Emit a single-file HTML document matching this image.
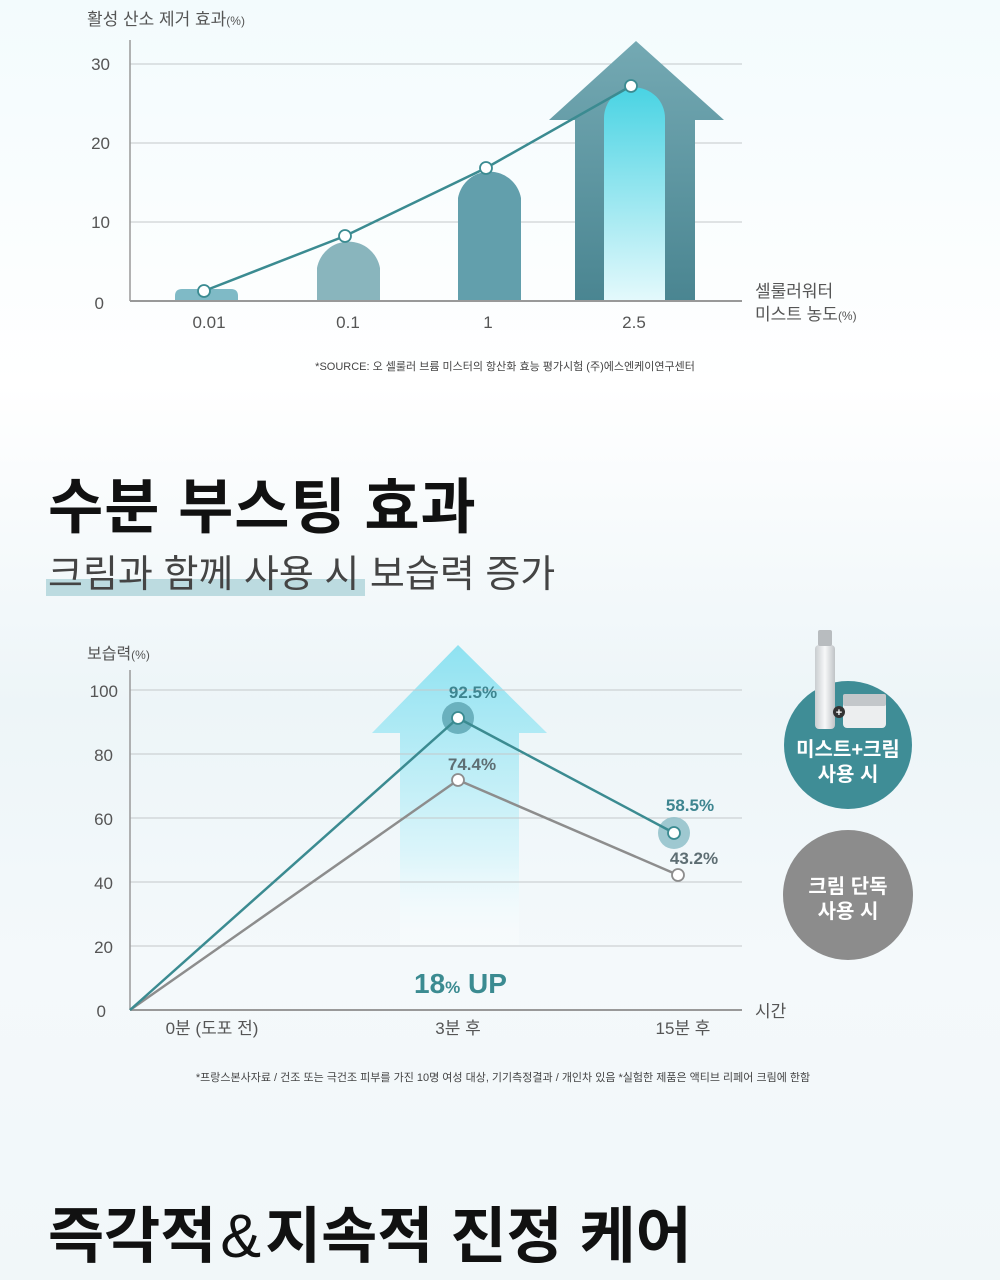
<!DOCTYPE html>
<html><head><meta charset="utf-8"><style>
body{margin:0;width:1000px;height:1280px;overflow:hidden;background:linear-gradient(180deg,#f3fbfd 0%,#ffffff 30%,#edf5f8 55%,#f4f9fb 75%,#f1f7f9 100%);font-family:"Liberation Sans","Noto Sans CJK KR",sans-serif;}
svg{position:absolute;left:0;top:0}
</style></head><body>
<svg width="1000" height="1280" xmlns="http://www.w3.org/2000/svg" font-family="Liberation Sans, Noto Sans CJK KR, sans-serif">
<defs>
<linearGradient id="inner" x1="0" y1="0" x2="0" y2="1"><stop offset="0" stop-color="#49d3e3"/><stop offset="1" stop-color="#e4f9fc"/></linearGradient>
<linearGradient id="arr1" x1="0" y1="0" x2="0" y2="1"><stop offset="0" stop-color="#74a9b3"/><stop offset="1" stop-color="#4a8591"/></linearGradient>
<linearGradient id="arr2" x1="0" y1="0" x2="0" y2="1"><stop offset="0" stop-color="#8fe2f1"/><stop offset="0.7" stop-color="#dcf5fa"/><stop offset="1" stop-color="#ffffff" stop-opacity="0.3"/></linearGradient>
<linearGradient id="bottle" x1="0" y1="0" x2="1" y2="0"><stop offset="0" stop-color="#c9cdd0"/><stop offset="0.5" stop-color="#f7f8f9"/><stop offset="1" stop-color="#bfc3c6"/></linearGradient>
</defs>
<!-- Chart 1 -->
<text x="87" y="25" font-size="17" fill="#555">활성 산소 제거 효과<tspan font-size="12">(%)</tspan></text>
<g stroke="#c4c8ca" stroke-width="1"><line x1="130" y1="64" x2="742" y2="64"/><line x1="130" y1="143" x2="742" y2="143"/><line x1="130" y1="222" x2="742" y2="222"/></g>
<g font-size="17" fill="#555" text-anchor="end"><text x="110" y="70">30</text><text x="110" y="149">20</text><text x="110" y="228">10</text><text x="104" y="309">0</text></g>
<path d="M175 301 V296 Q175 289 182 289 H231 Q238 289 238 296 V301Z" fill="#7fbac6"/>
<path d="M317 301 V268 A32 32 0 0 1 380 268 V301Z" fill="#89b5bd"/>
<path d="M458 301 V198 A32 32 0 0 1 521 198 V301Z" fill="#629fac"/>
<path d="M575 301 V120 H549 L636 41 L724 120 H695 V301Z" fill="url(#arr1)"/>
<path d="M604 301 V118 A30.5 30.5 0 0 1 665 118 V301Z" fill="url(#inner)"/>
<line x1="130" y1="40" x2="130" y2="301" stroke="#999" stroke-width="1.5"/>
<line x1="130" y1="301" x2="742" y2="301" stroke="#999" stroke-width="2"/>
<polyline points="204,291 345,236 486,168 631,86" fill="none" stroke="#3b8b91" stroke-width="2.5"/>
<g fill="#fff" stroke="#3b8b91" stroke-width="1.8"><circle cx="204" cy="291" r="6"/><circle cx="345" cy="236" r="6"/><circle cx="486" cy="168" r="6"/><circle cx="631" cy="86" r="6"/></g>
<g font-size="17" fill="#555" text-anchor="middle"><text x="209" y="328">0.01</text><text x="348" y="328">0.1</text><text x="488" y="328">1</text><text x="634" y="328">2.5</text></g>
<text x="755" y="297" font-size="17" fill="#555">셀룰러워터</text>
<text x="755" y="320" font-size="17" fill="#555">미스트 농도<tspan font-size="12">(%)</tspan></text>
<text x="505" y="370" font-size="11" fill="#444" text-anchor="middle">*SOURCE: 오 셀룰러 브륨 미스터의 항산화 효능 평가시험 (주)에스엔케이연구센터</text>
<!-- Title -->
<text x="48" y="528" font-size="60" font-weight="bold" fill="#111" letter-spacing="1">수분 부스팅 효과</text>
<rect x="46" y="579" width="319" height="17" fill="#bcdbe0"/>
<text x="48" y="587" font-size="38" fill="#444">크림과 함께 사용 시 보습력 증가</text>
<!-- Chart 2 -->
<text x="87" y="659" font-size="16" fill="#555">보습력<tspan font-size="12">(%)</tspan></text>
<path d="M400 945 V733 H372 L458 645 L547 733 H519 V945Z" fill="url(#arr2)"/>
<g stroke="#c4c8ca" stroke-width="1"><line x1="130" y1="690" x2="742" y2="690"/><line x1="130" y1="754" x2="742" y2="754"/><line x1="130" y1="818" x2="742" y2="818"/><line x1="130" y1="882" x2="742" y2="882"/><line x1="130" y1="946" x2="742" y2="946"/></g>
<g font-size="17" fill="#555" text-anchor="end"><text x="118" y="697">100</text><text x="113" y="761">80</text><text x="113" y="825">60</text><text x="113" y="889">40</text><text x="113" y="953">20</text><text x="106" y="1017">0</text></g>
<line x1="130" y1="670" x2="130" y2="1010" stroke="#999" stroke-width="1.5"/>
<line x1="130" y1="1010" x2="742" y2="1010" stroke="#999" stroke-width="2"/>
<circle cx="458" cy="718" r="16" fill="#5fa7b4" opacity="0.85"/>
<circle cx="674" cy="833" r="16" fill="#8fbfc9" opacity="0.85"/>
<polyline points="130,1010 458,780 678,875" fill="none" stroke="#8d8d8d" stroke-width="2.5"/>
<polyline points="130,1010 458,718 674,833" fill="none" stroke="#3b8b91" stroke-width="2.5"/>
<g fill="#fff" stroke-width="1.8"><circle cx="458" cy="718" r="6" stroke="#3b8b91"/><circle cx="674" cy="833" r="6" stroke="#3b8b91"/><circle cx="458" cy="780" r="6" stroke="#8d8d8d"/><circle cx="678" cy="875" r="6" stroke="#8d8d8d"/></g>
<g font-size="17" font-weight="bold" text-anchor="middle"><text x="473" y="698" fill="#3e8590">92.5%</text><text x="472" y="770" fill="#5e6e73">74.4%</text><text x="690" y="811" fill="#3e8590">58.5%</text><text x="694" y="864" fill="#5e6e73">43.2%</text></g>
<text x="414" y="993" font-size="28" font-weight="bold" fill="#3b8b91">18<tspan font-size="17">%</tspan> UP</text>
<g font-size="17" fill="#555" text-anchor="middle"><text x="212" y="1034">0분 (도포 전)</text><text x="458" y="1034">3분 후</text><text x="683" y="1034">15분 후</text></g>
<text x="755" y="1017" font-size="17" fill="#555">시간</text>
<text x="503" y="1081" font-size="11" fill="#444" text-anchor="middle">*프랑스본사자료 / 건조 또는 극건조 피부를 가진 10명 여성 대상, 기기측정결과 / 개인차 있음  *실험한 제품은 액티브 리페어 크림에 한함</text>
<!-- circles -->
<circle cx="848" cy="745" r="64" fill="#3f8d96"/>
<rect x="815" y="645" width="20" height="84" rx="4" fill="url(#bottle)"/>
<rect x="818" y="630" width="14" height="16" rx="2" fill="#b8bcbf"/>
<rect x="843" y="694" width="43" height="34" rx="4" fill="#eceeef"/>
<rect x="843" y="694" width="43" height="12" rx="2" fill="#c3c7ca"/>
<circle cx="839" cy="712" r="6" fill="#333"/><text x="839" y="716" font-size="11" fill="#fff" text-anchor="middle" font-weight="bold">+</text>
<text x="848" y="756" font-size="20" font-weight="bold" fill="#fff" text-anchor="middle">미스트+크림</text>
<text x="848" y="781" font-size="20" font-weight="bold" fill="#fff" text-anchor="middle">사용 시</text>
<circle cx="848" cy="895" r="65" fill="#8c8c8c"/>
<text x="848" y="893" font-size="20" font-weight="bold" fill="#fff" text-anchor="middle">크림 단독</text>
<text x="848" y="918" font-size="20" font-weight="bold" fill="#fff" text-anchor="middle">사용 시</text>
<!-- bottom title -->
<text x="48" y="1257" font-size="61" font-weight="bold" fill="#111">즉각적<tspan font-weight="normal" dx="4">&amp;</tspan><tspan dx="4">지속적 진정 케어</tspan></text>
</svg>
</body></html>
